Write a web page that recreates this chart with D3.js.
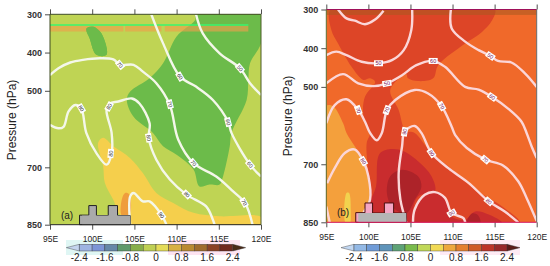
<!DOCTYPE html>
<meta charset="utf-8">
<style>
html, body { margin: 0; padding: 0; background: #fff; }
svg { display: block; }
text { font-family: "Liberation Sans", Arial, sans-serif; }
</style>
<svg width="550" height="266"></svg>
<script src="https://d3js.org/d3.v7.min.js"></script>
<script>

// axes
var lonTicks = [95, 100, 105, 110, 115, 120];
var pressureTicks = [300, 400, 500, 700, 850];
var barValues = [-2.4, -2, -1.6, -1.2, -0.8, -0.4, 0, 0.4, 0.8, 1.2, 1.6, 2, 2.4];
var barLabels = [-2.4, -1.6, -0.8, 0, 0.8, 1.6, 2.4];
var barColorsA = ["#c4d4ee", "#9db3e2", "#7d95d6", "#6688a8", "#5f9b6b", "#88ae4a", "#bfd054", "#e5dc58", "#d8b044", "#b98a33", "#a06c2e", "#8c4326", "#70291f", "#4a2a18"];
var barColorsB = ["#c3d8f2", "#93b9e6", "#709cd8", "#5f94ba", "#5ea377", "#79bb4c", "#c0d858", "#f1da55", "#eea83f", "#e5802f", "#cf5a28", "#bd3429", "#98282a", "#5c1a18"];

// terrain, same for both panels
var terrainLon = [98.5, 99.6, 100.5, 101.9, 103, 104.5];
var terrainP = [825, 800, 826, 800, 826, 850];

// panel a, shading [lon, hPa]
var aGreenMain = [[112.3,300],[120,300],[120,376],[118.7,428],[118.5,472],[118.3,524],[116.5,610],[116.3,645],[115.5,724],[115.1,745],[113.9,745],[112.7,750],[112,706],[110,667],[108.4,645],[107.2,610],[104.9,568],[104.1,524],[104.5,502],[106.8,467],[108.4,428],[110,358],[112.2,315]];
var aGreenBlob = [[99.3,337],[100.1,332],[101.1,350],[101.7,406],[100.5,406],[99.7,363]];
var aYellow = [[100.7,636],[101.3,623],[102.5,645],[104.5,676],[106,715],[107.6,767],[109.6,793],[112,819],[115.1,828],[120,830],[120,852],[104.5,852],[104.5,828],[103.3,824],[102.5,785],[101.5,741],[101.3,697]];
var aOrange = [[103.5,826],[103.5,785],[103.9,767],[104.4,771],[104.4,826]];

// panel a, contours [lon, hPa]
var a50 = [[112.3,300],[113.1,350],[115.1,402],[117.5,441],[118.7,480],[120,511]];
var a60 = [[107,300],[108.4,376],[110.4,463],[112.3,489],[114.3,524],[116.1,581],[116.5,610],[118.7,693],[120,724]];
var a70 = [[95,459],[96,441],[97.4,426],[98.9,419],[100.9,415],[102.5,418],[103.3,432],[104.9,432],[106,450],[107.6,480],[109.2,537],[110.2,628],[112,689],[114.7,724],[116.7,763],[118.1,793],[119,850]];
var a80 = [[95,589],[96,598],[96.6,594],[97.2,554],[98,537],[98.7,546],[99.3,610],[100.5,663],[101.7,693],[102.3,663],[102.3,610],[101.7,550],[102.1,533],[103.1,528],[104.7,520],[105.6,533],[106.8,585],[106.7,623],[107.6,680],[109.2,732],[111.2,772],[113.5,802],[114.3,837],[114.5,850]];
var a90 = [[104.5,850],[104.5,776],[104.9,767],[106,789],[106.8,789],[108.2,824],[108.8,850]];
var aLabels = [[103.3,432,"70",50],[110.4,463,"60",60],[117.5,441,"50",50],[109.2,535,"70",75],[116.1,582,"60",75],[98.7,546,"80",60],[102,541,"80",-60],[106.7,623,"80",80],[102.2,664,"80",-85],[112,689,"70",50],[118.7,693,"60",50],[118,792,"70",60],[111.2,771,"80",45],[108.2,825,"90",55]];

// panel b, shading [lon, hPa]
var bLight = [[94.9,550],[95.8,550],[97,594],[97.4,619],[98.4,654],[99.8,705],[100.2,791],[99.4,826],[99,852],[94.9,852]];
var bYellow = [[97.4,774],[97.7,774],[97.9,826],[97.8,852],[97.3,852]];
var bRed = [[95.6,298],[115,298],[114.7,328],[113.5,358],[111.5,388],[108.3,444],[107.7,478],[105.9,485],[104.7,478],[104.5,467],[102.6,508],[103.6,560],[104.4,613],[105.5,619],[107.5,671],[109.5,705],[112.7,766],[115.9,809],[118,852],[99,852],[99.4,826],[100.2,796],[99.9,705],[99.8,645],[100.2,619],[99.4,573],[99.6,525],[100.8,487],[100.2,478],[99.4,482],[98,448],[96.4,388],[95.6,353]];
var bCrimson = [[101.4,671],[103.6,662],[105.9,692],[107.5,731],[107.9,770],[105.9,783],[105.3,817],[105.3,852],[100.2,852],[100.2,800],[100.9,758]];
var bCrimson2 = [[105.3,852],[105.5,817],[106.7,779],[107.9,770],[109.1,787],[109.9,835],[111.5,843],[112.7,822],[114.3,830],[115.9,852]];
var bDark = [[102.6,731],[104,714],[105.9,731],[106.3,758],[105.5,792],[104.5,827],[102.8,809],[102.2,775]];
var bDark2 = [[111.7,852],[112.3,827],[113,831],[113.3,852]];

// panel b, contours [lon, hPa]
var b50a = [[96.4,300],[97.4,323],[98.4,329],[99.6,338],[100.8,326],[101.8,303]];
var b50b = [[95,418],[96.2,409],[97.4,418],[99.2,435],[101.2,439],[102.8,431],[104.2,405],[105.1,353],[105.2,300]];
var b50c = [[109.8,300],[109.9,349],[111.5,383],[113.1,405],[114.5,420],[115.4,433],[117,437],[118.6,465],[120,500]];
var b60 = [[95,491],[97,467],[98.8,491],[100.6,498],[102.2,491],[104,470],[105.7,444],[107.7,433],[109.1,448],[111.5,500],[113.1,507],[114.7,526],[116.6,556],[118.2,590],[118.8,619],[119.4,654],[120,684]];
var b70 = [[95,594],[96,547],[97.4,532],[98.8,560],[99.6,590],[100.2,619],[101,638],[101.6,619],[102.2,560],[103.2,534],[105.5,508],[107.1,517],[108.7,550],[109.9,603],[110.3,624],[111.7,658],[113.9,688],[116,703],[117.8,744],[118.8,787],[120,847]];
var b80a = [[95.1,749],[96,710],[97.2,671],[98.4,662],[99.4,692],[100,731],[100.2,791],[99.4,826],[99,850]];
var b80b = [[104.5,850],[103.8,791],[103.6,723],[104,654],[104.3,616],[105.5,601],[106.3,619],[107.5,671],[109.5,710],[111.9,748],[114.3,796],[116.2,822],[117.8,850]];
var b80c = [[95,809],[95.4,850]];
var b90 = [[105.3,850],[105.5,817],[106.7,779],[107.9,772],[109.1,787],[109.9,826],[111.3,839],[111.5,850]];
var bLabels = [[101.2,439,"50",0],[114.5,420,"50",35],[102.2,491,"50",-10],[107.7,433,"60",0],[114.7,526,"60",35],[98.8,560,"70",70],[102.2,560,"70",-70],[108.7,550,"70",60],[104.3,616,"90",-80],[99.4,692,"80",60],[107.5,671,"80",55],[113.9,688,"70",40],[114.3,796,"80",40],[109.9,826,"90",-30]];

var svg = d3.select("svg");

var panels = [
  {
    id: "a", x0: 50, x1: 261, y0: 14.3, y1: 224.7,
    bg: "#bfd454", contourColor: "#f4f7ea", labelColor: "#333", labelName: "(a)",
    nameX: 67, nameY: 219, titleX: 15.5, titleY: 120, tickY: 239,
    frameTop: "#3c4a20", frameLeft: "#3c4a20", frameBottom: "#222", frameRight: "#4c5c28",
    terrainFill: "#aaa", terrainTop: "#aaa", terrainLine: "#222",
    barX0: 79.3, barX1: 232.7, barColors: barColorsA,
    halos: [[66, 123, "#dff6f4"], [168, 240, "#fde3f1"]],
    fills: [[aGreenMain, "#6cbb4a"], [aGreenBlob, "#6cbb4a"], [aYellow, "#f5cf4c"], [aOrange, "#ef9d3c"]],
    contours: [a50, a60, a70, a80, a90], labels: aLabels
  },
  {
    id: "b", x0: 326.3, x1: 536.7, y0: 9.5, y1: 222.3,
    bg: "#f0692a", contourColor: "#fbd6d8", labelColor: "#7a1050", labelName: "(b)",
    nameX: 343, nameY: 216, titleX: 291.5, titleY: 116, tickY: 237,
    frameTop: "#a0105a", frameLeft: "#5c6a2c", frameBottom: "#d4145a", frameRight: "#666",
    terrainFill: "#b5b5b5", terrainTop: "#f4a6c4", terrainLine: "#4a0f0f",
    barX0: 354, barX1: 507, barColors: barColorsB,
    halos: [[440, 520, "#feeaf4"]],
    fills: [[bLight, "#f4a03c"], [bYellow, "#f2d24e"], [bRed, "#dd4527"], [bCrimson, "#c92c2e"], [bCrimson2, "#c92c2e"], [bDark, "#ad2329"], [bDark2, "#ad2329"]],
    contours: [b50a, b50b, b50c, b60, b70, b80a, b80b, b80c, b90], labels: bLabels
  }
];

panels.forEach(drawPanel);

function drawPanel(cfg) {
  var x = d3.scaleLinear().domain([95, 120]).range([cfg.x0, cfg.x1]);
  var y = d3.scaleLinear().domain([300, 850]).range([cfg.y0, cfg.y1]);
  var g = svg.append("g");

  // pale smear behind the colour bar
  g.selectAll("rect.halo")
    .data(cfg.halos)
    .enter().append("rect")
      .attr("class", "halo")
      .attr("x", d => d[0]).attr("y", 240)
      .attr("width", d => d[1] - d[0]).attr("height", 15)
      .attr("fill", d => d[2]);

  svg.append("clipPath").attr("id", "clip-" + cfg.id)
    .append("rect")
      .attr("x", cfg.x0).attr("y", cfg.y0)
      .attr("width", cfg.x1 - cfg.x0).attr("height", cfg.y1 - cfg.y0);

  var plot = g.append("g").attr("clip-path", "url(#clip-" + cfg.id + ")");

  plot.append("rect")
      .attr("x", cfg.x0).attr("y", cfg.y0)
      .attr("width", cfg.x1 - cfg.x0).attr("height", cfg.y1 - cfg.y0)
      .attr("fill", cfg.bg);

  var area = d3.line().x(d => x(d[0])).y(d => y(d[1])).curve(d3.curveCatmullRomClosed.alpha(0.5));
  var line = d3.line().x(d => x(d[0])).y(d => y(d[1])).curve(d3.curveCatmullRom.alpha(0.5));

  plot.selectAll("path.fill")
    .data(cfg.fills)
    .enter().append("path")
      .attr("class", "fill")
      .attr("d", d => area(d[0]))
      .attr("fill", d => d[1]);

  // compression smear along the top of each plot
  if (cfg.id == "b") {
    plot.append("rect")
        .attr("x", x(95)).attr("y", y(300))
        .attr("width", x(120) - x(95)).attr("height", y(314) - y(300))
        .attr("fill", "#a85a20").attr("opacity", 0.55);
  } else {
    [[95, 103.7], [103.9, 108.2], [108.6, 118.5]].forEach(function(s) {
      plot.append("rect")
          .attr("x", x(s[0])).attr("y", y(330))
          .attr("width", x(s[1]) - x(s[0])).attr("height", y(345) - y(330))
          .attr("fill", "#eda04c").attr("opacity", 0.65);
    });
    plot.append("path").attr("d", area(aGreenBlob)).attr("fill", "#6cbb4a");
    plot.append("rect")
        .attr("x", x(95)).attr("y", y(326))
        .attr("width", x(118.5) - x(95)).attr("height", 1.5)
        .attr("fill", "#3cf36e");
  }

  plot.selectAll("path.contour")
    .data(cfg.contours)
    .enter().append("path")
      .attr("class", "contour")
      .attr("d", line)
      .attr("fill", "none")
      .attr("stroke", cfg.contourColor)
      .attr("stroke-width", 2.4)
      .attr("stroke-linejoin", "round");

  var labels = plot.selectAll("g.clabel")
    .data(cfg.labels)
    .enter().append("g")
      .attr("class", "clabel")
      .attr("transform", d => "translate(" + x(d[0]) + "," + y(d[1]) + ") rotate(" + d[3] + ")");
  labels.append("rect")
      .attr("x", -4.5).attr("y", -3).attr("width", 9).attr("height", 6)
      .attr("fill", "#fff");
  labels.append("text")
      .attr("text-anchor", "middle").attr("dy", "0.35em")
      .attr("font-size", 5.5)
      .attr("fill", cfg.labelColor)
      .text(d => d[2]);

  // terrain, stepped
  var steps = terrainLon.map((d, i) => [d, terrainP[i]]);
  var terrain = [[terrainLon[0], 850]].concat(steps);
  var stepLine = d3.line().x(d => x(d[0])).y(d => y(d[1])).curve(d3.curveStepAfter);
  g.append("path")
      .attr("d", stepLine(terrain) + "Z")
      .attr("fill", cfg.terrainTop)
      .attr("stroke", cfg.terrainLine)
      .attr("stroke-width", 1);
  g.append("rect")
      .attr("x", x(terrainLon[0] + 0.3)).attr("y", y(826))
      .attr("width", x(terrainLon[5]) - x(terrainLon[0] + 0.3)).attr("height", y(850) - y(826))
      .attr("fill", cfg.terrainFill);

  g.append("text")
      .attr("x", cfg.nameX).attr("y", cfg.nameY)
      .attr("text-anchor", "middle").attr("font-size", 10).attr("fill", "#222")
      .text(cfg.labelName);

  // ticks
  var left = g.append("g")
      .attr("transform", "translate(" + cfg.x0 + ",0)")
      .call(d3.axisLeft(y).tickValues(pressureTicks).tickSize(5).tickPadding(3));
  var bottom = g.append("g")
      .attr("transform", "translate(0," + cfg.y1 + ")")
      .call(d3.axisBottom(x).tickValues(lonTicks).tickSize(5).tickFormat(d => d + "E"));
  var top = g.append("g")
      .attr("transform", "translate(0," + cfg.y0 + ")")
      .call(d3.axisTop(x).tickValues(lonTicks).tickSize(5).tickFormat(""));

  [left, bottom, top].forEach(function(a) {
    a.select(".domain").remove();
    a.selectAll("line").attr("stroke", "#222").attr("stroke-width", 0.8);
    a.selectAll("text").attr("font-family", "Liberation Sans").attr("fill", "#222");
  });
  left.selectAll("text").attr("font-size", 9).attr("font-weight", "bold").attr("fill", "#333");
  bottom.selectAll("text")
      .attr("font-size", 8.5)
      .attr("y", cfg.tickY - cfg.y1 + 3).attr("dy", 0);

  // frame
  [[cfg.x0, cfg.y0, cfg.x1, cfg.y0, cfg.frameTop],
   [cfg.x0, cfg.y1, cfg.x1, cfg.y1, cfg.frameBottom],
   [cfg.x0, cfg.y0, cfg.x0, cfg.y1, cfg.frameLeft],
   [cfg.x1, cfg.y0, cfg.x1, cfg.y1, cfg.frameRight]].forEach(function(s) {
    g.append("line")
        .attr("x1", s[0]).attr("y1", s[1]).attr("x2", s[2]).attr("y2", s[3])
        .attr("stroke", s[4]).attr("stroke-width", 1);
  });

  g.append("text")
      .attr("transform", "translate(" + cfg.titleX + "," + cfg.titleY + ") rotate(-90)")
      .attr("text-anchor", "middle")
      .attr("font-size", 12)
      .attr("fill", "#222")
      .text("Pressure (hPa)");

  drawBar(g, cfg);
}

function drawBar(g, cfg) {
  var bx = d3.scaleLinear().domain([-2.4, 2.4]).range([cfg.barX0, cfg.barX1]);
  var yTop = 244.3, yBot = 251, step = bx(-2) - bx(-2.4);
  var tip = 13, mid = (yTop + yBot) / 2;

  g.append("path")
      .attr("d", "M" + bx(-2.4) + "," + yTop + "L" + (bx(-2.4) - tip) + "," + mid + "L" + bx(-2.4) + "," + yBot + "Z")
      .attr("fill", cfg.barColors[0]).attr("stroke", "#333").attr("stroke-width", 0.4);
  g.append("path")
      .attr("d", "M" + bx(2.4) + "," + yTop + "L" + (bx(2.4) + tip) + "," + mid + "L" + bx(2.4) + "," + yBot + "Z")
      .attr("fill", cfg.barColors[13]).attr("stroke", "#333").attr("stroke-width", 0.4);

  g.selectAll("rect.box")
    .data(barValues.slice(0, -1))
    .enter().append("rect")
      .attr("class", "box")
      .attr("x", d => bx(d)).attr("y", yTop)
      .attr("width", step).attr("height", yBot - yTop)
      .attr("fill", (d, i) => cfg.barColors[i + 1])
      .attr("stroke", "#333").attr("stroke-width", 0.4);

  g.selectAll("text.barlabel")
    .data(barLabels)
    .enter().append("text")
      .attr("class", "barlabel")
      .attr("x", d => bx(d)).attr("y", 261)
      .attr("text-anchor", "middle")
      .attr("font-size", 10)
      .attr("fill", "#222")
      .text(d => d);
}

</script>
